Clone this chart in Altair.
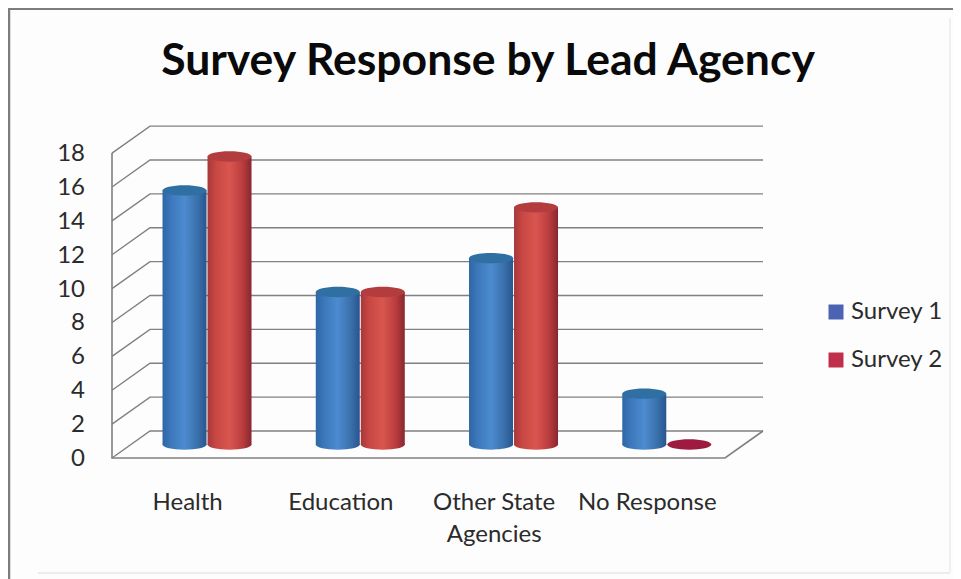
import altair as alt
import pandas as pd

# ---- values
categories = ["Health", "Education", "Other State Agencies", "No Response"]
category_lines = [["Health"], ["Education"], ["Other State", "Agencies"], ["No Response"]]
survey_1 = [15, 9, 11, 3]
survey_2 = [17, 9, 14, 0]
series_names = ["Survey 1", "Survey 2"]
y_ticks = [0, 2, 4, 6, 8, 10, 12, 14, 16, 18]
title_text = "Survey Response by Lead Agency"

# ---- scale set-up: one category = 153.25 px, one value unit = 16.94 px
W, H = 945, 571
PX_X, PX_Y = 153.25, 16.94
X0, Y0 = 104, 450                      # where category edge 0 / value 0 fall, front of the floor
DEPTH_X, DEPTH_Y = 38 / PX_X, 27 / PX_Y
x_scale = alt.Scale(domain=[-X0 / PX_X, (W - X0) / PX_X], range=[0, W], nice=False, zero=False)
y_scale = alt.Scale(domain=[(Y0 - H) / PX_Y, Y0 / PX_Y], range=[H, 0], nice=False, zero=False)
X = lambda f="x": alt.X(f"{f}:Q", scale=x_scale, axis=None)
Y = lambda f="y": alt.Y(f"{f}:Q", scale=y_scale, axis=None)
GRID = "#808080"
TEXT = "#2b2b2b"
FONT = "Lato"

# ---- 3-D frame
grid_rows = []
for t in y_ticks:
    for i, (cx, d) in enumerate([(0, 0), (0, 1), (4, 1)]):
        grid_rows.append({"level": t, "o": i, "x": cx + d * DEPTH_X, "y": t + d * DEPTH_Y})
grid = alt.Chart(pd.DataFrame(grid_rows)).mark_line(color=GRID, strokeWidth=1.4).encode(
    x=X(), y=Y(), detail="level:N", order="o:Q")

floor_rows = [{"o": i, "x": cx + d * DEPTH_X, "y": d * DEPTH_Y}
              for i, (cx, d) in enumerate([(4, 1), (4, 0), (0, 0), (0, 18)])]
floor_rows[-1] = {"o": 3, "x": 0, "y": y_ticks[-1]}
floor = alt.Chart(pd.DataFrame(floor_rows)).mark_line(color=GRID, strokeWidth=1.6).encode(
    x=X(), y=Y(), order="o:Q")

# ---- cylinders
ELLIPSE = ("M-1,0C-1,-0.13 -0.552,-0.235 0,-0.235C0.552,-0.235 1,-0.13 1,0"
           "C1,0.13 0.552,0.235 0,0.235C-0.552,0.235 -1,0.13 -1,0Z")
CYL_W = 44 / PX_X
BASE = 0.5 * DEPTH_X - 0.6 / PX_X, 13.5 / PX_Y


def gradient(stops):
    return alt.LinearGradient(
        gradient="linear", x1=0, x2=1, y1=0, y2=0,
        stops=[alt.GradientStop(color=c, offset=o) for o, c in stops])


def cylinder(values, side, stops, top_colour, empty_colour):
    df = pd.DataFrame({"cat": categories, "value": values})
    df["xc"] = [i + 0.5 + BASE[0] + side * (CYL_W + 1 / PX_X) / 2 for i in range(len(df))]
    df["x1"] = df.xc - CYL_W / 2
    df["x2"] = df.xc + CYL_W / 2
    df["y0"] = BASE[1]
    df["y1"] = df.value + BASE[1]
    base = alt.Chart(df)
    fill = gradient(stops)
    solid = base.transform_filter("datum.value > 0")
    body = solid.mark_bar(color=fill, strokeWidth=0).encode(
        x=X("x1"), x2="x2:Q", y=Y("y0"), y2="y1:Q")
    bottom = solid.mark_point(shape=ELLIPSE, size=CYL_W**2 * PX_X**2, filled=True, fill=fill,
                              opacity=1, strokeWidth=0).encode(x=X("xc"), y=Y("y0"))
    top = base.mark_point(shape=ELLIPSE, size=CYL_W**2 * PX_X**2, filled=True,
                          opacity=1, strokeWidth=0).encode(
        x=X("xc"), y=Y("y1"),
        fill=alt.condition("datum.value > 0", alt.value(top_colour), alt.value(empty_colour)))
    return [body, bottom, top]


blue = [(0, "#2f66a6"), (0.2, "#3c78bb"), (0.5, "#4c8bd0"), (0.8, "#3a70aa"), (1, "#285590")]
red = [(0, "#a8383a"), (0.2, "#c94844"), (0.5, "#d9564f"), (0.8, "#b93c3e"), (1, "#872730")]
cyl1 = cylinder(survey_1, -1, blue, "#2f6fa2", "#2f6fa2")
cyl2 = cylinder(survey_2, 1, red, "#b23c3e", "#9c1b3e")

# ---- text
tick_df = pd.DataFrame({"y": y_ticks, "x": [-27 / PX_X] * len(y_ticks), "t": [str(v) for v in y_ticks]})
tick_text = alt.Chart(tick_df).mark_text(
    align="right", baseline="middle", font=FONT, fontSize=24, dy=1, color=TEXT
).encode(x=X(), y=Y(), text="t:N")

label_rows = []
for i, lines in enumerate(category_lines):
    for j, line in enumerate(lines):
        label_rows.append({"x": i + 0.5 - 1 / PX_X, "line": j, "t": line})
label_df = pd.DataFrame(label_rows)
cat_text = alt.Chart(label_df).mark_text(
    align="center", baseline="middle", font=FONT, fontSize=24, color=TEXT
).encode(
    x=X(), text="t:N",
    y=alt.Y("py:Q", scale=y_scale, axis=None)
).transform_calculate(py=f"(-45 - datum.line * 32) / {PX_Y}")

title = alt.Chart(pd.DataFrame({"t": [title_text]})).mark_text(
    align="center", baseline="middle", font=FONT, fontSize=44.5, fontWeight="bold", color="#0a0a0a"
).encode(x=alt.value(480), y=alt.value(54), text="t:N")

# ---- legend
leg_df = pd.DataFrame({"name": series_names, "row": [0, 1]})
leg_colours = alt.Scale(domain=series_names, range=["#4c63b4", "#c0304c"])
leg_y = alt.Y("ly:Q", scale=y_scale, axis=None)
leg_sym = alt.Chart(leg_df).transform_calculate(
    ly=f"(146 - datum.row * 48) / {PX_Y}", lx=f"{(836 - 112) / PX_X}"
).mark_square(size=225, opacity=1).encode(
    x=X("lx"), y=leg_y, color=alt.Color("name:N", scale=leg_colours, legend=None))
leg_txt = alt.Chart(leg_df).transform_calculate(
    ly=f"(146 - datum.row * 48) / {PX_Y}", lx=f"{(851 - 112) / PX_X}"
).mark_text(align="left", baseline="middle", font=FONT, fontSize=24, color=TEXT).encode(
    x=X("lx"), y=leg_y, text="name:N")

# ---- outer frame
frame = [
    alt.Chart(pd.DataFrame({"a": [0]})).mark_rule(color="#7d7d7d", strokeWidth=2.5).encode(
        x=alt.value(1), y=alt.value(0), y2=alt.value(H)),
    alt.Chart(pd.DataFrame({"a": [0]})).mark_rule(color="#7d7d7d", strokeWidth=2).encode(
        x=alt.value(1), x2=alt.value(W), y=alt.value(1)),
    alt.Chart(pd.DataFrame({"a": [0]})).mark_rule(color="#ececec", strokeWidth=2).encode(
        x=alt.value(30), x2=alt.value(942), y=alt.value(565)),
    alt.Chart(pd.DataFrame({"a": [0]})).mark_rule(color="#f0f0f0", strokeWidth=2).encode(
        x=alt.value(942), y=alt.value(10), y2=alt.value(565)),
]

chart = alt.layer(
    *frame, grid, floor, *cyl1, *cyl2, tick_text, cat_text, title, leg_sym, leg_txt
).properties(
    width=W, height=H, padding=0, background="#fdfdfd",
    autosize=alt.AutoSizeParams(type="none"),
).configure_view(stroke=None)

chart.save("out.html", embed_options={"renderer": "svg", "actions": False})
